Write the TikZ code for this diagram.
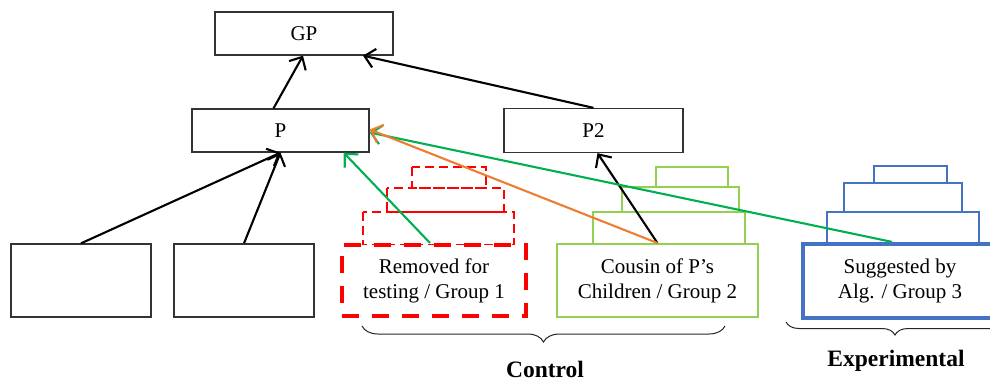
\documentclass[tikz,border=0pt]{standalone}
\usepackage{fontspec}
\setmainfont{Liberation Serif}
\usetikzlibrary{arrows.meta,calc,decorations.pathreplacing}

\definecolor{grgreen}{RGB}{0,176,80}
\definecolor{orng}{RGB}{237,125,49}
\definecolor{lgreen}{RGB}{146,208,80}
\definecolor{algblue}{RGB}{68,114,196}

\tikzset{
  box/.style={draw=black!80, line width=1.3pt, fill=white, inner sep=0pt,
    align=center, font=\fontsize{21}{25}\selectfont},
  link/.style={line width=2.1pt, -{Straight Barb[length=10pt,width=19pt,line width=2.1pt]}},
  stackred/.style={draw=red, line width=2pt, dash pattern=on 9pt off 5pt},
  stackgreen/.style={draw=lgreen, line width=1.8pt},
  stackblue/.style={draw=algblue, line width=1.8pt},
  grpbrace/.style={draw=black!85, line width=1pt,
    decorate, decoration={brace, mirror, amplitude=9pt}},
  grplabel/.style={font=\fontsize{23.5}{28}\selectfont\bfseries}
}

\begin{document}
\begin{tikzpicture}[x=1pt,y=-1pt]
\useasboundingbox (0,0) rectangle (990,382);

% stacked copies behind each group box
\draw[stackred] (363,212) rectangle (514,245);
\draw[stackred] (387,188) rectangle (504,212);
\draw[stackred] (412,167) rectangle (486,188);

\draw[stackgreen] (593,212) rectangle (745,244);
\draw[stackgreen] (622,187) rectangle (739,212);
\draw[stackgreen] (656,167) rectangle (728,187);

\draw[stackblue] (827,212) rectangle (979,244);
\draw[stackblue] (844,183) rectangle (962,212);
\draw[stackblue] (874,166) rectangle (947,183);

% tree nodes
\node[box, minimum width=178pt, minimum height=43pt] (gp) at (304,33.5) {GP};
\node[box, minimum width=177pt, minimum height=43pt] (p) at (280.5,130.5) {P};
\node[box, minimum width=179pt, minimum height=44pt] (p2) at (593.5,130.5) {P2};
\node[box, minimum width=140pt, minimum height=73pt] (c1) at (81,280.5) {};
\node[box, minimum width=140pt, minimum height=73pt] (c2) at (244,280.5) {};

% group boxes
\node[box, draw=red, line width=4pt, dash pattern=on 17pt off 13pt,
  minimum width=184pt, minimum height=71pt] (g1) at (434,280.5)
  {Removed for\\testing / Group 1};
\node[box, draw=lgreen, line width=1.9pt,
  minimum width=201pt, minimum height=73pt] (g2) at (657.5,280.5)
  {Cousin of P’s\\Children / Group 2};
\node[box, draw=algblue, line width=4.2pt,
  minimum width=194pt, minimum height=74pt] (g3) at (900,281)
  {Suggested by\\Alg. / Group 3};

% parent links
\draw[link] ([xshift=-7pt]p.north) -- ([xshift=-1pt]gp.south);
\draw[link] (p2.north) -- ([xshift=59pt]gp.south);
\draw[link] (c1.north) -- (p.south);
\draw[link] (c2.north) -- (p.south);
\draw[link] (g2.north) -- ([xshift=4pt]p2.south);

% candidate links
\draw[link, grgreen] ([xshift=-4pt]g1.north) -- ([xshift=-26pt]p.south east);
\draw[link, grgreen] ([xshift=-8pt]g3.north) -- ([yshift=-2pt]p.east);
\draw[link, orng] (g2.north) -- ([yshift=1pt]p.east);

% group braces
\coordinate (ctlL) at (362,326);
\coordinate (ctlR) at (725,326);
\coordinate (expL) at (786,322);
\coordinate (expR) at (1004,322);
\draw[grpbrace, decoration={amplitude=16pt}] (ctlL) -- (ctlR);
\draw[grpbrace, decoration={amplitude=13pt}] (expL) -- (expR);
\node[grplabel] (ctl) at (545,369) {Control};
\node[grplabel] (exp) at (896,361) {Experimental};
\end{tikzpicture}
\end{document}
